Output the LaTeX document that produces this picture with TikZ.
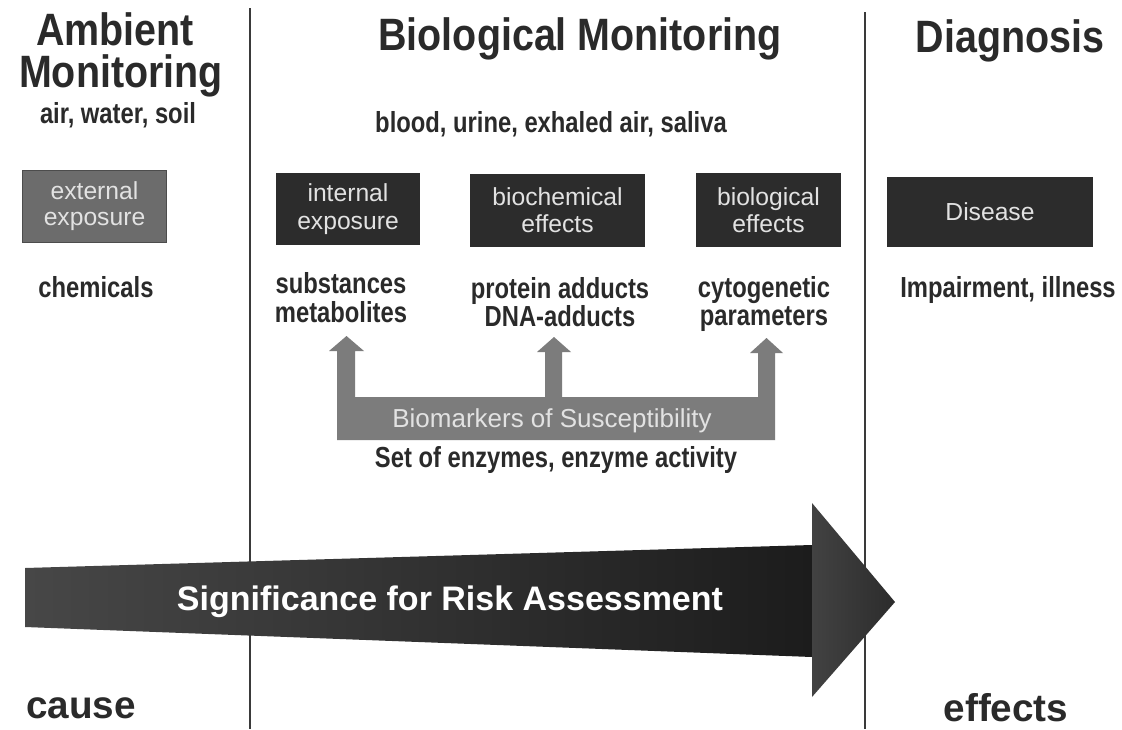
\documentclass[tikz,border=0pt]{standalone}
\usepackage{fontspec}
\setmainfont{Liberation Sans}
\newfontfamily\titlef[FakeStretch=0.87]{Liberation Sans}
\newfontfamily\bodyf[FakeStretch=0.82]{Liberation Sans}
\definecolor{txt}{HTML}{2A2A2A}
\definecolor{boxdark}{HTML}{2C2C2C}
\definecolor{boxmid}{HTML}{6C6C6C}
\definecolor{boxtext}{HTML}{E2E2E2}
\definecolor{uarrow}{HTML}{7C7C7C}
\definecolor{arrL}{HTML}{474747}
\definecolor{arrR}{HTML}{1C1C1C}
\definecolor{headL}{HTML}{424242}
\definecolor{headR}{HTML}{2C2C2C}
\definecolor{sepline}{HTML}{3A3A3A}
\begin{document}
\begin{tikzpicture}[x=0.75pt,y=-0.75pt,
  title/.style={font=\titlef\bfseries\fontsize{34}{40}\selectfont, text=txt, anchor=base, inner sep=0pt},
  body/.style={font=\bodyf\bfseries\fontsize{21.75}{24}\selectfont, text=txt, anchor=base, inner sep=0pt},
  bigword/.style={font=\bfseries\fontsize{29}{32}\selectfont, text=txt, anchor=base, inner sep=0pt},
  boxnode/.style={fill=boxdark, text=boxtext, align=center, inner sep=0pt,
    font=\fontsize{18.5}{20.5}\selectfont},
  sepstyle/.style={draw=sepline, line width=1.5pt},
  uarrowstyle/.style={fill=uarrow},
  sigtext/.style={font=\bfseries\fontsize{25.5}{28}\selectfont, text=white, anchor=base, inner sep=0pt},
  biotext/.style={font=\fontsize{19.5}{22}\selectfont, text=boxtext, anchor=base, inner sep=0pt}
]
\useasboundingbox[fill=white] (0,0) rectangle (1122,729);

% separators
\coordinate (s1t) at (250,8);
\coordinate (s1b) at (250,729);
\coordinate (s2t) at (865,12);
\coordinate (s2b) at (865,729);
\draw[sepstyle] (s1t) -- (s1b);
\draw[sepstyle] (s2t) -- (s2b);

% titles
\node[title] (amb1) at (115,45) {Ambient};
\node[title] (amb2) at (121,87) {Monitoring};
\node[body] (media) at (118,123) {air, water, soil};
\node[title] (biom) at (580,50) {Biological Monitoring};
\node[title] (diag) at (1010,52) {Diagnosis};
\node[body] (fluids) at (551,132) {blood, urine, exhaled air, saliva};

% boxes
\node[boxnode, fill=boxmid, draw=black!70, line width=0.6pt, minimum width=108pt, minimum height=54pt, font=\fontsize{18.5}{19.5}\selectfont] (ext) at (94.5,206) {external\\exposure};
\node[boxnode, minimum width=108pt, minimum height=54pt, font=\fontsize{18.5}{21.5}\selectfont] (int) at (348,209) {internal\\exposure};
\node[boxnode, minimum width=131.25pt, minimum height=54.75pt] (bchem) at (557.5,210.5) {biochemical\\effects};
\node[boxnode, minimum width=108.75pt, minimum height=55.5pt] (bio) at (768.5,210) {biological\\effects};
\node[boxnode, minimum width=154.5pt, minimum height=52.5pt] (dis) at (990,212) {Disease};

% texts below boxes
\node[body] (chem) at (96,297) {chemicals};
\node[body] (subs) at (341,293) {substances};
\node[body] (meta) at (341,322) {metabolites};
\node[body] (prot) at (560,298) {protein adducts};
\node[body] (dna) at (560,326) {DNA-adducts};
\node[body] (cyto) at (764,297) {cytogenetic};
\node[body] (para) at (764,325) {parameters};
\node[body] (impair) at (1008,297) {Impairment, illness};

% biomarkers U-shaped arrow
\fill[uarrowstyle] (337,440) -- (337,351) -- (329,351) -- (346.5,336) -- (364,351) -- (355,351)
  -- (355,397) -- (545,397) -- (545,352) -- (537,352) -- (554,337) -- (571,352) -- (562,352)
  -- (562,397) -- (758,397) -- (758,353) -- (750,353) -- (766.5,338) -- (783,353) -- (775,353)
  -- (775,440) -- cycle;
\node[biotext] (biomark) at (552,427) {Biomarkers of Susceptibility};
\node[body] (enz) at (556,467) {Set of enzymes, enzyme activity};

% big arrow
\shade[left color=arrL, right color=arrR] (25,568) -- (812,545) -- (812,657) -- (25,627) -- cycle;
\shade[left color=headL, right color=headR] (812,503) -- (895,602) -- (812,697) -- cycle;
\node[sigtext] (sig) at (450,610) {Significance for Risk Assessment};

\node[bigword] (cause) at (81,718) {cause};
\node[bigword] (effects) at (1006,721) {effects};
\end{tikzpicture}
\end{document}
